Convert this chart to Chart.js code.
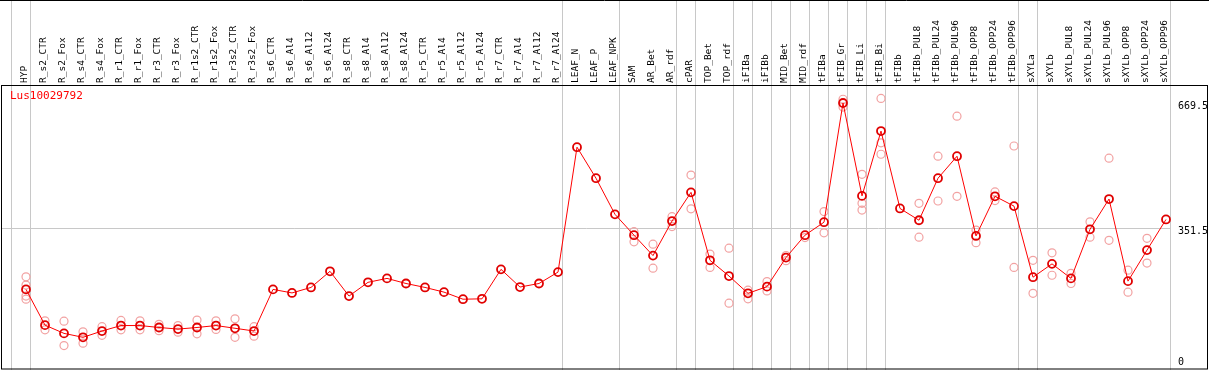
<!DOCTYPE html>
<html>
<head>
<meta charset="utf-8">
<script src="https://cdn.jsdelivr.net/npm/chart.js@4/dist/chart.umd.min.js"></script>
<style>
  body { margin: 0; background: #fff; }
  canvas { display: block; }
</style>
</head>
<body>
<canvas id="c" width="1209" height="370"></canvas>
<script>
var categories = ["HYP", "R_s2_CTR", "R_s2_Fox", "R_s4_CTR", "R_s4_Fox", "R_r1_CTR", "R_r1_Fox",
  "R_r3_CTR", "R_r3_Fox", "R_r1s2_CTR", "R_r1s2_Fox", "R_r3s2_CTR", "R_r3s2_Fox",
  "R_s6_CTR", "R_s6_Al4", "R_s6_Al12", "R_s6_Al24", "R_s8_CTR", "R_s8_Al4", "R_s8_Al12", "R_s8_Al24",
  "R_r5_CTR", "R_r5_Al4", "R_r5_Al12", "R_r5_Al24", "R_r7_CTR", "R_r7_Al4", "R_r7_Al12", "R_r7_Al24",
  "LEAF_N", "LEAF_P", "LEAF_NPK", "SAM", "AR_Bet", "AR_rdf", "cPAR", "TOP_Bet", "TOP_rdf",
  "iFIBa", "iFIBb", "MID_Bet", "MID_rdf", "tFIBa", "tFIB_Gr", "tFIB_Li", "tFIB_Bi", "tFIBb",
  "tFIBb_PUL8", "tFIBb_PUL24", "tFIBb_PUL96", "tFIBb_OPP8", "tFIBb_OPP24", "tFIBb_OPP96",
  "sXYLa", "sXYLb", "sXYLb_PUL8", "sXYLb_PUL24", "sXYLb_PUL96", "sXYLb_OPP8", "sXYLb_OPP24", "sXYLb_OPP96"];

// mean expression per sample
var means = [195, 104, 83, 73, 89, 103, 103, 98, 94, 98, 103, 96, 89,
  195, 186, 200, 241, 178, 213, 223, 210, 200, 188, 170, 171, 246, 201, 210, 239,
  557, 478, 386, 333, 281, 369, 442, 269, 229, 185, 202, 276, 333, 366,
  669.5, 433, 598, 401, 371, 478, 534, 331, 432, 407,
  226, 260, 223, 348, 425, 216, 295, 373];

// single replicates (light circles)
var replicates = [[227, 206, 178, 170], [115, 92], [114, 52], [87, 58], [100, 78], [116, 92], [115, 92],
  [106, 90], [103, 86], [117, 82], [115, 93], [120, 73], [100, 76],
  [], [], [], [], [], [], [], [], [], [], [], [], [], [], [], [],
  [], [], [], [342, 316], [310, 249], [380, 355], [486, 400], [285, 251], [300, 160],
  [193, 171], [215, 191], [281, 268], [327], [393, 339], [679, 659], [488, 414, 397], [681, 568, 539], [],
  [414, 328], [534, 420], [636, 432], [346, 314], [443, 421], [560, 251],
  [269, 185], [288, 231], [236, 210], [367, 328], [529, 320], [244, 188], [325, 262], []];

var yTicks = [0, 351.5, 669.5];
var geneName = "Lus10029792";

// group separators come after these sample indexes
var groupEnds = [-1, 0, 28, 31, 34, 35, 37, 38, 39, 40, 41, 42, 43, 44, 45, 52, 53, 60];

var meanPts = means.map(function (v, i) { return { x: i, y: v }; });
var repPts = [];
replicates.forEach(function (r, i) {
  r.forEach(function (v) { repPts.push({ x: i, y: v }); });
});

var frame = {
  id: "frame",
  beforeDatasetsDraw: function (chart) {
    var ctx = chart.ctx, xs = chart.scales.x, ys = chart.scales.y;
    ctx.save();
    ctx.strokeStyle = "#c8c8c8";
    ctx.lineWidth = 1;
    var lastX = 0;
    groupEnds.forEach(function (g) {
      var x = Math.round(xs.getPixelForValue(g + 0.22)) + 0.5;
      lastX = x;
      ctx.beginPath();
      ctx.moveTo(x, 0);
      ctx.lineTo(x, chart.height);
      ctx.stroke();
    });
    var y = Math.round(ys.getPixelForValue(yTicks[1])) + 0.5;
    ctx.beginPath();
    ctx.moveTo(2, y);
    ctx.lineTo(lastX, y);
    ctx.stroke();
    ctx.restore();
  },
  afterDraw: function (chart) {
    var ctx = chart.ctx, ys = chart.scales.y, a = chart.chartArea;
    ctx.save();
    ctx.strokeStyle = "#000";
    ctx.lineWidth = 1;
    ctx.beginPath();
    ctx.moveTo(0, 0.5);
    ctx.lineTo(chart.width, 0.5);
    ctx.stroke();
    ctx.strokeRect(1.5, a.top + 0.5, 1206, a.bottom - a.top - 1.5);

    ctx.font = "10px 'DejaVu Sans Mono'";
    ctx.fillStyle = "#000";
    ctx.textAlign = "left";
    ctx.textBaseline = "top";
    yTicks.forEach(function (t) {
      var py = Math.min(ys.getPixelForValue(t) - 2, a.bottom - 13);
      ctx.fillText(String(t), 1178, py);
    });

    ctx.fillStyle = "#ff0000";
    ctx.font = "11px 'DejaVu Sans Mono'";
    ctx.fillText(geneName, 10, a.top + 6);
    ctx.restore();
  }
};

new Chart(document.getElementById("c"), {
  type: "line",
  data: {
    datasets: [
      {
        data: meanPts,
        borderColor: "#ff0000",
        borderWidth: 1,
        pointRadius: 4,
        pointBorderWidth: 1.8,
        pointBorderColor: "#e00000",
        pointBackgroundColor: "rgba(0,0,0,0)",
        tension: 0,
        order: 1,
        clip: false
      },
      {
        data: repPts,
        showLine: false,
        pointRadius: 4,
        pointBorderWidth: 1.2,
        pointBorderColor: "#f2a2a2",
        pointBackgroundColor: "rgba(0,0,0,0)",
        order: 2,
        clip: false
      }
    ]
  },
  options: {
    responsive: false,
    animation: false,
    devicePixelRatio: 1,
    layout: { padding: 0, autoPadding: false },
    plugins: {
      legend: { display: false },
      tooltip: { enabled: false }
    },
    scales: {
      x: {
        type: "linear",
        position: "top",
        min: -26 / 19,
        max: (1209 - 26) / 19,
        grid: { display: false, drawTicks: false },
        border: { display: false },
        afterBuildTicks: function (s) {
          s.ticks = categories.map(function (c, i) { return { value: i }; });
        },
        afterFit: function (s) {
          s.height = 85;
          s.paddingLeft = 0;
          s.paddingRight = 0;
        },
        ticks: {
          autoSkip: false,
          minRotation: 90,
          maxRotation: 90,
          padding: 2,
          labelOffset: 10,
          color: "#000",
          font: { family: "'DejaVu Sans Mono'", size: 9.5 },
          callback: function (v) { return categories[v]; }
        }
      },
      y: {
        type: "linear",
        display: false,
        min: -10.2,
        max: 715.3
      }
    }
  },
  plugins: [frame]
});
</script>
</body>
</html>
